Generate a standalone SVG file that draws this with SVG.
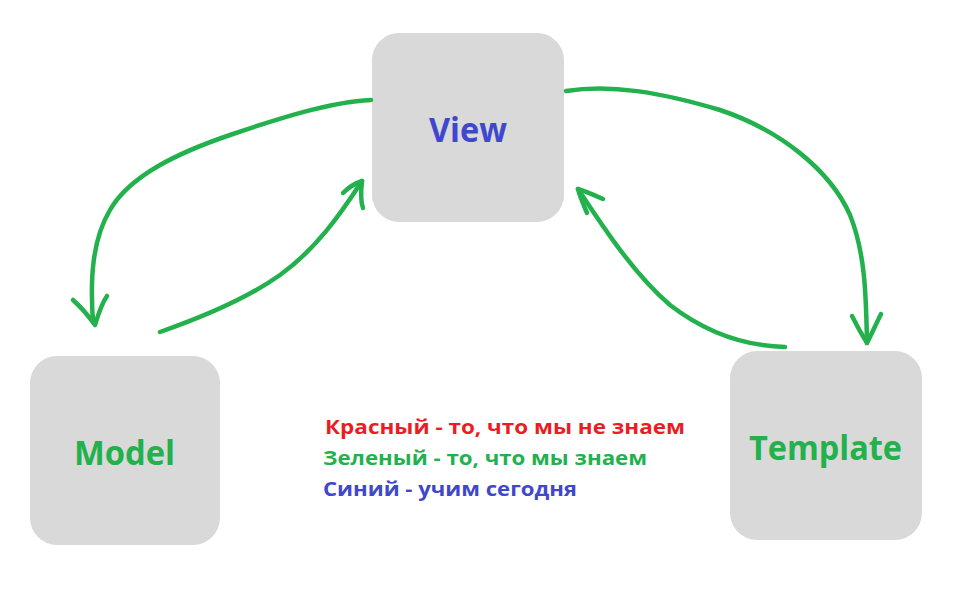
<svg xmlns="http://www.w3.org/2000/svg" width="958" height="591" viewBox="0 0 958 591">
<style>
.box{fill:#d9d9d9}
.lbl{font-family:"Open Sans","Noto Sans",sans-serif;font-weight:bold;font-size:34px}
.leg{font-family:"Open Sans","Noto Sans",sans-serif;font-weight:bold;font-size:20px}
.wire{fill:none;stroke:#22b14c;stroke-width:4.5;stroke-linecap:round;stroke-linejoin:round}
</style>
<rect width="958" height="591" fill="#ffffff"/>
<g id="view">
<rect class="box" x="372" y="33" width="192" height="189" rx="27"/>
<text class="lbl" x="429" y="142" fill="#3f48cc" textLength="78" lengthAdjust="spacingAndGlyphs">View</text>
</g>
<g id="model">
<rect class="box" x="30" y="356" width="190" height="189" rx="27"/>
<text class="lbl" x="74" y="465" fill="#22b14c" textLength="101" lengthAdjust="spacingAndGlyphs">Model</text>
</g>
<g id="template">
<rect class="box" x="730" y="351" width="192" height="189" rx="27"/>
<text class="lbl" x="749" y="460" fill="#22b14c" textLength="153" lengthAdjust="spacingAndGlyphs">Template</text>
</g>
<g id="legend">
<text class="leg" x="325" y="434" fill="#ed1c24" textLength="360" lengthAdjust="spacingAndGlyphs">Красный - то, что мы не знаем</text>
<text class="leg" x="323" y="465" fill="#22b14c" textLength="324" lengthAdjust="spacingAndGlyphs">Зеленый - то, что мы знаем</text>
<text class="leg" x="323" y="496" fill="#3f48cc" textLength="254" lengthAdjust="spacingAndGlyphs">Синий - учим сегодня</text>
</g>
<g id="connectors">
<path class="wire" d="M371 100 C330 102 280 118 230 135 C180 152 130 175 110 210 C92 240 90 280 93 322"/>
<path class="wire" d="M73 300 C82 308 90 318 95 325 C98 315 102 303 107 296"/>
<path class="wire" d="M160 332 C200 318 245 300 280 275 C315 250 340 215 362 181"/>
<path class="wire" d="M343 193 C350 186 356 183 362 181 C361 190 360 200 363 208"/>
<path class="wire" d="M566 91 C610 84 660 92 720 110 C780 130 830 170 850 215 C866 255 866 300 867 343"/>
<path class="wire" d="M852 316 C857 326 862 335 867 343 C872 333 877 322 881 314"/>
<path class="wire" d="M785 347 C745 346 705 332 670 305 C635 275 605 230 578 189"/>
<path class="wire" d="M603 199 C594 195 585 191 578 189 C580 197 584 206 587 213"/>
</g>
</svg>
